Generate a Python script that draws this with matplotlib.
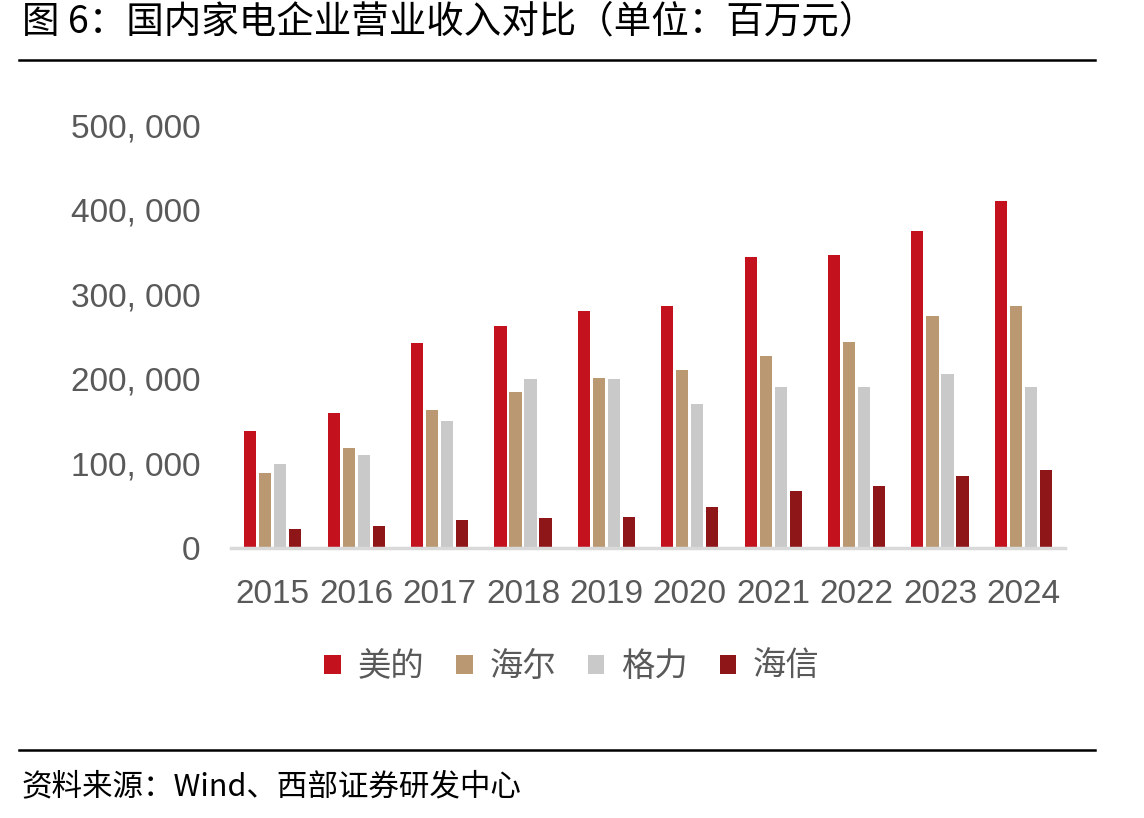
import numpy as np
import matplotlib.pyplot as plt
from matplotlib.lines import Line2D

plt.rcParams['font.family'] = ['Liberation Sans', 'Noto Sans CJK SC', 'DejaVu Sans']

# data (百万元)
years = ['2015', '2016', '2017', '2018', '2019', '2020', '2021', '2022', '2023', '2024']
midea = [138000, 160000, 242000, 262000, 280000, 286000, 344000, 346000, 375000, 410000]
haier = [89000, 118000, 163000, 184000, 201000, 210000, 227000, 244000, 274000, 286000]
gree = [99000, 110000, 150000, 200000, 200000, 170000, 190000, 190000, 206000, 190000]
hisense = [22000, 26000, 33000, 35000, 37000, 48000, 67000, 73000, 85000, 92000]

names = ['美的', '海尔', '格力', '海信']
colors = ['#C3111E', '#BA9872', '#C9C9C9', '#8E1518']
series = [midea, haier, gree, hisense]

fig = plt.figure(figsize=(11.44, 8.18), dpi=100)
ax = fig.add_axes([0.202, 0.330, 0.729, 0.517])

x = np.arange(len(years))
pitch = 0.18
width = 0.145
for i, (vals, c, n) in enumerate(zip(series, colors, names)):
    ax.bar(x + (i - 1.5) * pitch, vals, width, color=c, label=n, zorder=2)

ax.set_xlim(-0.5, len(years) - 0.5)
ax.set_ylim(0, 500000)
ax.set_yticks(np.arange(0, 500001, 100000))
ax.set_yticklabels([f'{v:,}'.replace(',', ', ') for v in range(0, 500001, 100000)])
ax.set_xticks(x)
ax.set_xticklabels(years)
ax.tick_params(axis='both', length=0, labelsize=24, colors='#595959')
ax.tick_params(axis='y', pad=22)
ax.tick_params(axis='x', pad=22)
for s in ['top', 'right', 'left']:
    ax.spines[s].set_visible(False)
ax.spines['bottom'].set_color('#D9D9D9')
ax.spines['bottom'].set_linewidth(2.5)

leg = fig.legend(loc='center', bbox_to_anchor=(0.5, 0.185), ncol=4, frameon=False,
                 prop={'family': ['Noto Sans CJK SC'], 'size': 24},
                 handlelength=0.5, handleheight=0.5, handletextpad=0.5, columnspacing=0.95)
for t in leg.get_texts():
    t.set_color('#595959')

# title, rules and source
fig.text(0.019, 0.973, '图 6：国内家电企业营业收入对比（单位：百万元）', fontsize=27,
         family=['Noto Sans CJK SC'], va='center', ha='left')
fig.add_artist(Line2D([0.017, 0.957], [0.927, 0.927], color='black', lw=1.8))
fig.add_artist(Line2D([0.017, 0.957], [0.083, 0.083], color='black', lw=1.8))
fig.text(0.019, 0.038, '资料来源：Wind、西部证券研发中心', fontsize=22,
         family=['Noto Sans CJK SC'], va='center', ha='left')

fig.savefig('out.png', dpi=100)
